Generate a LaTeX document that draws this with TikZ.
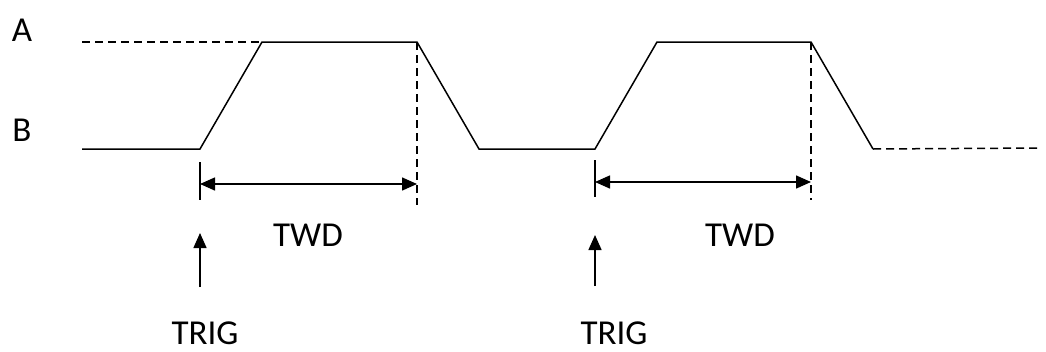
\documentclass[tikz,border=0pt]{standalone}
\usepackage{fontspec}
\setmainfont{Carlito}
\usetikzlibrary{arrows.meta}
\begin{document}
\begin{tikzpicture}[x=1pt,y=-1pt,line width=1.5pt,
    lbl/.style={font=\fontsize{35}{40}\selectfont,inner sep=0pt,anchor=base},
    dimarrow/.style={{Triangle[length=15pt,width=13pt]}-{Triangle[length=15pt,width=13pt]}},
    trigarrow/.style={-{Triangle[length=15pt,width=13pt]}},
    guide/.style={dash pattern=on 8pt off 5pt},
    tick/.style={line width=1.2pt}]
  \useasboundingbox (0,0) rectangle (1046,351);
  \draw
    (22,41) node[lbl] (A){A}
    (22,141) node[lbl] (B){B}
    (308,246) node[lbl] (twd1){TWD}
    (740,246) node[lbl] (twd2){TWD}
    (205,344) node[lbl] (trig1){TRIG}
    (614,344) node[lbl] (trig2){TRIG};
  % waveform corners
  \coordinate (w0) at (82,149);
  \coordinate (w1) at (200,149);
  \coordinate (w2) at (262,42);
  \coordinate (w3) at (417,42);
  \coordinate (w4) at (479,149);
  \coordinate (w5) at (595,149);
  \coordinate (w6) at (657,42);
  \coordinate (w7) at (811,42);
  \coordinate (w8) at (873,149);
  \coordinate (hi) at (82,42);
  \coordinate (lo) at (1040,148);
  \draw (w0) -- (w1) -- (w2) -- (w3) -- (w4) -- (w5) -- (w6) -- (w7) -- (w8);
  \begin{scope}[guide]
    \draw (hi) -- (w2);
    \draw (w8) -- (lo);
    \draw (w3) -- (417,205);
    \draw (w7) -- (811,200);
  \end{scope}
  % widths
  \draw[tick] (200,162) -- (200,200);
  \draw[tick] (595,160) -- (595,197);
  \coordinate (d1a) at (200,184);
  \coordinate (d1b) at (417,184);
  \coordinate (d2a) at (595,182);
  \coordinate (d2b) at (811,182);
  \draw[dimarrow] (d1a) -- (d1b);
  \draw[dimarrow] (d2a) -- (d2b);
  % triggers
  \coordinate (t1a) at (200,287);
  \coordinate (t1b) at (200,233);
  \coordinate (t2a) at (595,286);
  \coordinate (t2b) at (595,235);
  \draw[trigarrow] (t1a) -- (t1b);
  \draw[trigarrow] (t2a) -- (t2b);
\end{tikzpicture}
\end{document}
